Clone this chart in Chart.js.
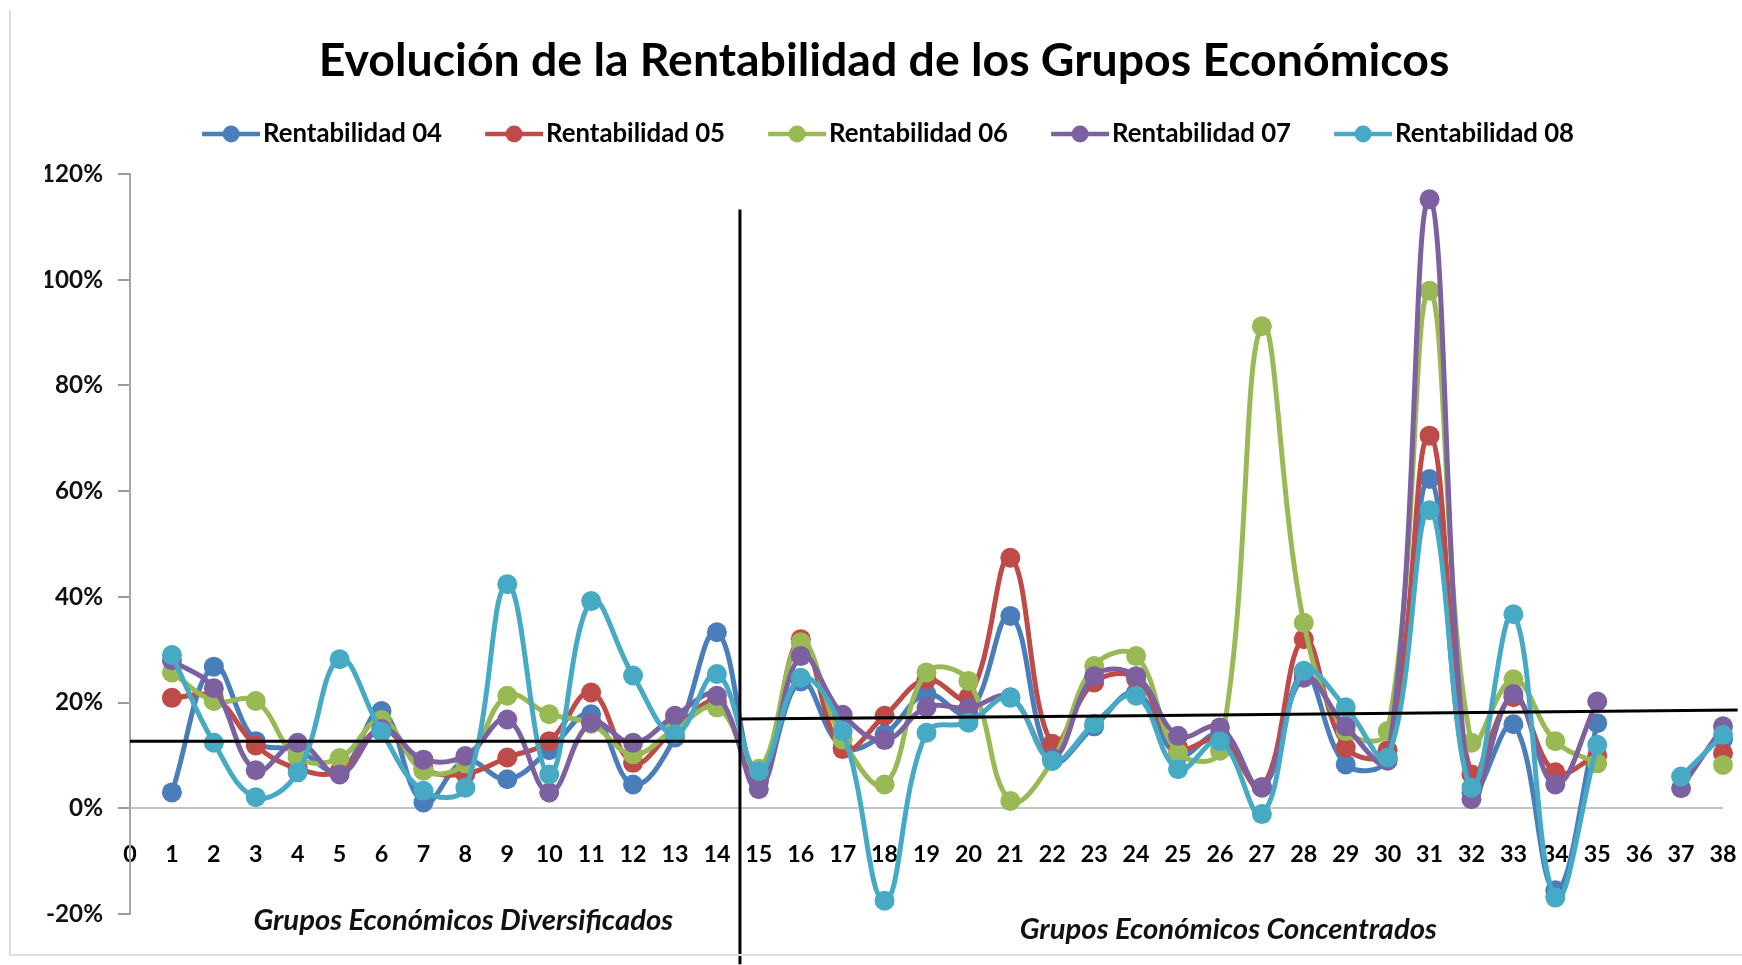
<!DOCTYPE html>
<html>
<head>
<meta charset="utf-8">
<script src="https://cdn.jsdelivr.net/npm/chart.js@4.4.1/dist/chart.umd.min.js"></script>
<style>
html,body{margin:0;padding:0;background:#fff;}
#wrap{position:relative;width:1742px;height:965px;overflow:hidden;}
#frame{position:absolute;left:9px;top:10px;width:1740px;height:944px;border-left:2px solid #dedede;border-bottom:2px solid #dedede;pointer-events:none;}
</style>
</head>
<body>
<div id="wrap"><canvas id="c" width="1742" height="965"></canvas><div id="frame"></div></div>
<script>
// ---------- DATA ----------
const TITLE = 'Evolución de la Rentabilidad de los Grupos Económicos';
const categories = [1,2,3,4,5,6,7,8,9,10,11,12,13,14,15,16,17,18,19,20,21,22,23,24,25,26,27,28,29,30,31,32,33,34,35,36,37,38];
const seriesNames = ['Rentabilidad 04','Rentabilidad 05','Rentabilidad 06','Rentabilidad 07','Rentabilidad 08'];
const rent04 = [3.0,26.8,12.7,11,7,18.4,1.1,9,5.5,11,17.8,4.5,13.4,33.3,5,24,11.5,14,21.6,18,36.4,9,15.5,21.9,10,14,3.9,25.5,8.3,9.5,62.3,3,15.9,-15.5,16.1,null,null,13];
const rent05 = [20.9,21,11.9,7.5,7,15,7.5,6.5,9.6,12.7,21.9,8.6,15,20,5.5,32,11.2,17.5,24.4,21,47.4,12.2,23.8,24.5,11.5,13,4,32,11.5,11,70.5,6.4,21,6.8,10,null,null,10.4];
const rent06 = [25.7,20.3,20.3,9.6,9.5,16.7,7.1,8.5,21.3,17.8,16,10.2,15,19.1,7.5,31.4,13,4.5,25.7,24.1,1.4,9,26.9,28.8,10.5,10.9,91.2,35.1,14.6,14.6,97.9,12.4,24.4,12.7,8.5,null,null,8.2];
const rent07 = [28,22.7,7.2,12.4,6.4,15,9.2,9.9,16.8,3.0,16.2,12.4,17.5,21.3,3.6,28.8,17.7,12.9,19.1,19,21,9.5,25,25,13.7,15.3,4,24.7,15.5,9,115.2,1.7,21.6,4.5,20.2,null,3.8,15.5];
const rent08 = [29.0,12.4,2.1,6.8,28.2,14.5,3.3,3.9,42.4,6.4,39.2,25.1,14.0,25.4,7,24.7,14.6,-17.5,14.3,16.2,20.9,9.0,16,21.3,7.4,12.7,-1.1,26.0,19.1,9.6,56.4,3.9,36.7,-16.9,12.0,null,6.0,13.9];
const xTickLabels = [0,1,2,3,4,5,6,7,8,9,10,11,12,13,14,15,16,17,18,19,20,21,22,23,24,25,26,27,28,29,30,31,32,33,34,35,36,37,38];
const yTickValues = [-20,0,20,40,60,80,100,120];
// reference lines (group averages and divider), in data units
const avgLeftX = [0, 14.55];
const avgLeftY = [12.7, 12.7];
const avgRightX = [14.55, 24, 38.35];
const avgRightY = [16.9, 17.5, 18.6];
const dividerX = [14.55, 14.55];
const dividerY = [113.3, -29.5];
const groupTexts = ['Grupos Económicos Diversificados', 'Grupos Económicos Concentrados'];
const groupTextX = [7.95, 26.2];
const groupTextY = [-21.2, -22.9];

// ---------- STYLE ----------
const COLORS = ['#4a7ebb','#be4b48','#98b954','#7d60a0','#46aac5'];
const FAMILY = 'Lato, "Open Sans", "DejaVu Sans", sans-serif';
const mctx = document.createElement('canvas').getContext('2d');
function fitSize(text, style, target){ mctx.font = style + ' 100px ' + FAMILY; return 100*target/mctx.measureText(text).width; }

const titleSize = fitSize(TITLE, 'bold', 1131);
const legendSize = fitSize('Rentabilidad 04', 'bold', 179);
const xTickSize = fitSize('15', 'bold', 27);
const yTickSize = fitSize('120%', 'bold', 62);
const groupSize = fitSize(groupTexts[0], 'italic bold', 420);

const LEG_PAD = 10;
const LEG_SHIFT = 25;
const legendTextW = (()=>{ mctx.font = 'bold ' + legendSize + 'px ' + FAMILY; return mctx.measureText('Rentabilidad 04').width; })();
const legendBoxW = 283 - LEG_PAD - legendSize/2 - legendTextW;
const legendTop = 134 - LEG_PAD - legendSize/2;
const titlePadTop = 61 - 0.6*titleSize;
const titlePadBottom = legendTop - 61 - 0.6*titleSize;
const spacerH = 174 - (legendTop + legendSize + 20);

function legendIcon(color){
  const cw = Math.round(legendBoxW + legendSize), ch = 26;
  const cv = document.createElement('canvas'); cv.width = cw; cv.height = ch;
  const g = cv.getContext('2d');
  g.strokeStyle = color; g.lineWidth = 4.5;
  g.beginPath(); g.moveTo(cw-61, ch/2); g.lineTo(cw-3, ch/2); g.stroke();
  g.fillStyle = color; g.beginPath(); g.arc(cw-32, ch/2, 8.5, 0, Math.PI*2); g.fill();
  return cv;
}
const icons = COLORS.map(legendIcon);

const seriesArrays = [rent04, rent05, rent06, rent07, rent08];
const datasets = seriesArrays.map((arr, k) => ({
  label: seriesNames[k],
  data: categories.map((c, i) => ({x: c, y: arr[i]})),
  borderColor: COLORS[k],
  backgroundColor: COLORS[k],
  pointBackgroundColor: COLORS[k],
  pointBorderColor: COLORS[k],
  borderWidth: 5,
  pointRadius: 10,
  pointBorderWidth: 0,
  tension: 0.4,
  spanGaps: false,
  clip: false,
  order: 10 - k
}));
function refLine(xs, ys){
  return { label: '_ref', data: xs.map((x,i)=>({x, y: ys[i]})), borderColor: '#000', backgroundColor: '#000',
    borderWidth: 3, pointRadius: 0, tension: 0, clip: false, order: 0 };
}
datasets.push(refLine(avgLeftX, avgLeftY));
datasets.push(refLine(avgRightX, avgRightY));
datasets.push(refLine(dividerX, dividerY));

const groupLabelPlugin = {
  id: 'groupLabels',
  afterLayout(chart){
    if (chart.legend) { chart.legend.left -= LEG_SHIFT; }
  },
  afterDraw(chart){
    const ctx = chart.ctx, xs = chart.scales.x, ys = chart.scales.y;
    ctx.save();
    ctx.font = 'italic bold ' + groupSize + 'px ' + FAMILY;
    ctx.fillStyle = '#111';
    ctx.textAlign = 'center'; ctx.textBaseline = 'middle';
    groupTexts.forEach((t, i) => ctx.fillText(t, xs.getPixelForValue(groupTextX[i]), ys.getPixelForValue(groupTextY[i])));
    ctx.restore();
  }
};

new Chart(document.getElementById('c'), {
  type: 'line',
  data: { datasets },
  plugins: [groupLabelPlugin],
  options: {
    responsive: false,
    animation: false,
    events: [],
    layout: { padding: { left: 45, right: 19, top: 0, bottom: 51 } },
    plugins: {
      tooltip: { enabled: false },
      title: {
        display: true, text: TITLE, color: '#000',
        font: { family: FAMILY, size: titleSize, weight: 'bold', lineHeight: 1.2 },
        padding: { top: titlePadTop, bottom: titlePadBottom }
      },
      legend: {
        display: true, position: 'top',
        labels: {
          usePointStyle: true,
          pointStyleWidth: legendBoxW,
          padding: LEG_PAD,
          color: '#000',
          font: { family: FAMILY, size: legendSize, weight: 'bold' },
          generateLabels: (chart) => seriesNames.map((n, k) => ({
            text: n, datasetIndex: k, fontColor: '#000', hidden: false,
            pointStyle: icons[k], fillStyle: COLORS[k], strokeStyle: COLORS[k], lineWidth: 0, rotation: 0
          }))
        }
      }
    },
    scales: {
      x: {
        type: 'linear', position: { y: 0 }, min: 0, max: 38,
        afterBuildTicks: (s) => { s.ticks = xTickLabels.map(v => ({value: v})); },
        ticks: { stepSize: 1, autoSkip: false, maxRotation: 0, padding: 24, color: '#000',
          font: { family: FAMILY, size: xTickSize, weight: 'bold' },
          callback: (v) => String(v) },
        grid: { display: false },
        border: { display: false },
        afterFit: (s) => { s.height = 0; s.paddingLeft = 0; s.paddingRight = 0; }
      },
      sp: {
        type: 'linear', position: 'top', display: true,
        ticks: { display: false }, grid: { display: false }, border: { display: false },
        afterFit: (s) => { s.height = spacerH; s.paddingLeft = 0; s.paddingRight = 0; }
      },
      y: {
        type: 'linear', position: 'left', min: -20, max: 120,
        afterBuildTicks: (s) => { s.ticks = yTickValues.map(v => ({value: v})); },
        ticks: { padding: 15, color: '#111', font: { family: FAMILY, size: yTickSize, weight: 'bold' },
          callback: (v) => v + '%' },
        grid: { drawOnChartArea: true, drawTicks: true, tickLength: 12, tickColor: '#9a9a9a', lineWidth: 2,
          color: (c) => (c.tick && c.tick.value === 0) ? '#c4c4c4' : 'rgba(0,0,0,0)' },
        border: { display: true, color: '#a6a6a6', width: 2 },
        afterFit: (s) => { s.width = 85; s.paddingTop = 0; s.paddingBottom = 0; }
      }
    }
  }
});
</script>
</body>
</html>
